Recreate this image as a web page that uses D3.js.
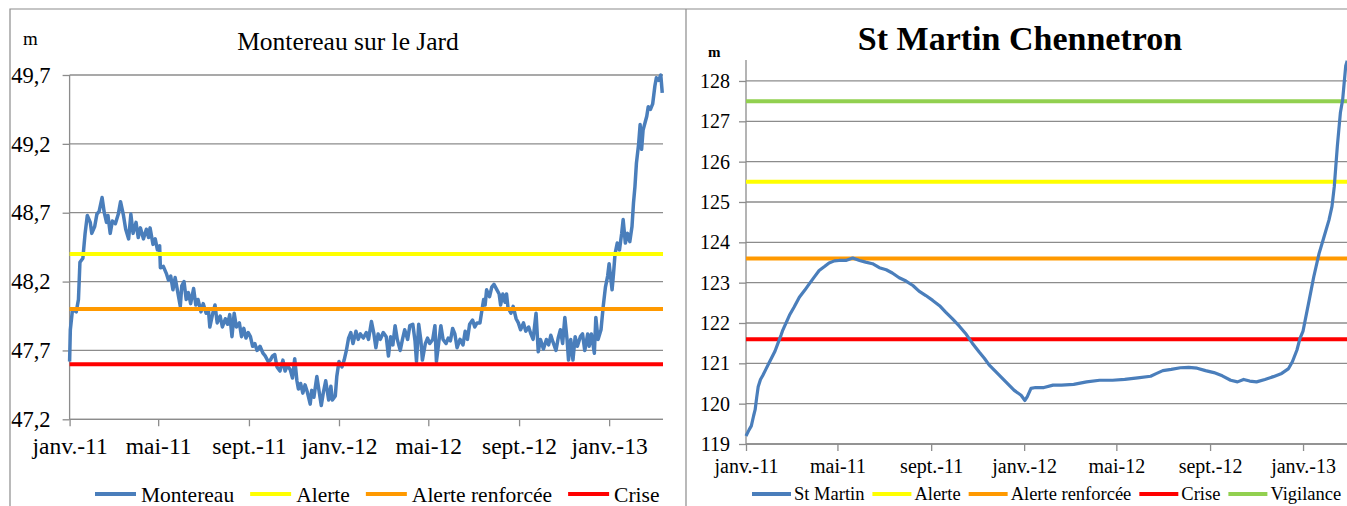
<!DOCTYPE html>
<html>
<head>
<meta charset="utf-8">
<script src="https://cdn.jsdelivr.net/npm/d3@7"></script>
<style>
  body { margin: 0; background: #fff; }
  svg { display: block; }
  svg text { font-family: 'Liberation Serif', 'Times New Roman', serif; }
</style>
</head>
<body>
<svg id="chart" width="1347" height="506"></svg>
<script>
// water level readings, days counted from 1 Jan 2011
var montDays = [0, 1, 4, 9, 12, 14, 18, 21, 24, 28, 30, 34, 37, 40, 44, 47, 50, 52, 55, 58, 62, 66, 69, 73, 76, 80, 83, 86, 90, 93, 96, 100, 104, 107, 109, 113, 116, 119, 122, 123, 127, 131, 134, 137, 140, 143, 146, 150, 152, 155, 158, 161, 164, 168, 171, 174, 178, 181, 185, 188, 190, 194, 197, 200, 204, 207, 211, 214, 217, 220, 223, 226, 230, 233, 236, 239, 242, 245, 248, 251, 254, 258, 262, 265, 269,
    272, 275, 278, 281, 285, 289, 292, 295, 299, 302, 305, 308, 310, 313, 316, 319, 322, 326, 328, 331, 335, 337, 341, 344, 347, 351, 354, 356, 360, 362, 365, 369, 372, 375, 378, 381, 384, 388, 391, 394, 398, 402, 405, 409, 412, 415, 418, 421, 425, 429, 432, 435, 438, 441, 444, 448, 451, 454, 458, 461, 465, 468, 470, 473, 476, 478, 482, 485, 488, 492, 495, 497, 500, 503, 506, 510, 513, 516, 519, 522, 525, 529, 533, 536, 539, 542,
    546, 549, 552, 556, 558, 561, 563, 565, 569, 572, 575, 579, 582, 584, 587, 590, 592, 594, 598, 601, 605, 608, 611, 615, 618, 622, 625, 628, 632, 635, 638, 642, 646, 649, 652, 655, 659, 662, 665, 668, 671, 674, 676, 679, 682, 685, 688, 692, 695, 698, 702, 704, 707, 711, 713, 716, 720, 723, 726, 729, 731, 735, 737, 739, 742, 745, 748, 750, 753, 756, 759, 762, 764, 766, 768, 771, 773, 775, 777, 780, 782, 784, 787, 790, 793, 795, 798, 801, 803];
var montLevels = [47.62, 47.85, 48.0, 47.98, 48.07, 48.34, 48.37, 48.55, 48.68, 48.63, 48.55, 48.6, 48.69, 48.71, 48.81, 48.7, 48.63, 48.68, 48.55, 48.64, 48.62, 48.69, 48.78, 48.68, 48.58, 48.51, 48.69, 48.55, 48.63, 48.52, 48.59, 48.51, 48.58, 48.52, 48.59, 48.47, 48.51, 48.43, 48.46, 48.3, 48.31, 48.26, 48.21, 48.24, 48.14, 48.23, 48.14, 48.02, 48.17, 48.2, 48.07, 48.12, 48.04, 48.15, 48.03, 48.07, 47.98, 48.04, 47.97, 48.0, 47.87, 47.97, 48.03, 47.9, 47.95, 47.87, 47.93, 47.89, 47.96, 47.8, 47.97, 47.87, 47.9, 47.8, 47.86, 47.79, 47.83, 47.8, 47.73, 47.75, 47.7, 47.73, 47.68, 47.66, 47.62,
    47.63, 47.66, 47.67, 47.58, 47.55, 47.63, 47.55, 47.59, 47.56, 47.5, 47.64, 47.48, 47.42, 47.46, 47.39, 47.45, 47.4, 47.31, 47.41, 47.36, 47.51, 47.44, 47.3, 47.4, 47.48, 47.34, 47.44, 47.34, 47.37, 47.51, 47.62, 47.58, 47.63, 47.7, 47.79, 47.83, 47.75, 47.84, 47.78, 47.82, 47.79, 47.83, 47.78, 47.91, 47.83, 47.72, 47.82, 47.78, 47.83, 47.8, 47.66, 47.8, 47.74, 47.88, 47.78, 47.7, 47.78, 47.85, 47.78, 47.88, 47.89, 47.77, 47.62, 47.89, 47.77, 47.63, 47.75, 47.79, 47.75, 47.78, 47.88, 47.62, 47.75, 47.88, 47.78, 47.75, 47.79, 47.77, 47.86, 47.82, 47.72, 47.78, 47.74, 47.84, 47.78, 47.89,
    47.92, 47.87, 47.9, 47.9, 47.97, 48.07, 48.03, 48.14, 48.09, 48.16, 48.18, 48.14, 48.11, 48.03, 48.11, 48.05, 48.11, 48.01, 47.97, 48.02, 47.93, 47.9, 47.85, 47.9, 47.84, 47.87, 47.82, 47.78, 47.97, 47.69, 47.78, 47.71, 47.78, 47.74, 47.81, 47.76, 47.7, 47.79, 47.85, 47.75, 47.94, 47.78, 47.63, 47.78, 47.63, 47.8, 47.73, 47.8, 47.82, 47.7, 47.82, 47.73, 47.82, 47.68, 47.94, 47.78, 47.85, 48.02, 48.16, 48.24, 48.33, 48.14, 48.26, 48.4, 48.48, 48.43, 48.55, 48.65, 48.48, 48.55, 48.49, 48.6, 48.77, 48.89, 49.06, 49.2, 49.34, 49.16, 49.3, 49.36, 49.4, 49.47, 49.45, 49.49, 49.62, 49.68, 49.66, 49.7, 49.57];

var martinDays = [0, 4, 7, 10, 12, 14, 16, 19, 22, 26, 30, 34, 38, 42, 46, 48, 52, 57, 63, 70, 77, 83, 90, 96, 103, 109, 116, 122, 131, 140, 149, 157, 166, 175, 184, 192, 201, 210, 219, 227, 236, 245, 254, 262, 271, 280, 289, 297, 306, 313, 319, 330, 341, 352, 361, 366, 369, 374, 380, 391, 403, 414, 430, 447, 464, 481, 497, 514, 531, 539, 547, 558, 570, 581, 592, 603, 614, 625, 636, 645, 653, 661, 670, 681, 692, 703, 712, 717, 723, 727, 731, 739, 745, 752, 758, 765, 769, 772, 774, 776, 778, 780, 783, 785, 787, 789];
var martinLevels = [119.2, 119.35, 119.45, 119.7, 119.85, 120.15, 120.42, 120.6, 120.7, 120.85, 121.0, 121.15, 121.3, 121.5, 121.7, 121.81, 121.98, 122.19, 122.39, 122.64, 122.81, 122.97, 123.15, 123.3, 123.4, 123.49, 123.54, 123.55, 123.55, 123.61, 123.55, 123.51, 123.47, 123.37, 123.32, 123.24, 123.12, 123.04, 122.93, 122.79, 122.68, 122.56, 122.43, 122.27, 122.1, 121.92, 121.72, 121.5, 121.28, 121.12, 120.96, 120.75, 120.54, 120.33, 120.21, 120.08, 120.17, 120.38, 120.4, 120.4, 120.46, 120.46, 120.48, 120.54, 120.58, 120.58, 120.6, 120.64, 120.68, 120.75, 120.82, 120.85, 120.89, 120.9, 120.88, 120.82, 120.77, 120.69, 120.58, 120.54, 120.6, 120.56, 120.54, 120.6, 120.67, 120.75, 120.87, 121.04, 121.33, 121.62, 121.8, 122.56, 123.14, 123.72, 124.1, 124.55, 124.89, 125.38, 125.88, 126.38, 126.8, 127.21, 127.54, 127.96, 128.37, 128.5];

var tickMonths = ["2011-01", "2011-05", "2011-09", "2012-01", "2012-05", "2012-09", "2013-01"];
var tickLabels = ["janv.-11", "mai-11", "sept.-11", "janv.-12", "mai-12", "sept.-12", "janv.-13"];

var montTicks = [47.2, 47.7, 48.2, 48.7, 49.2, 49.7];
var martinTicks = [119, 120, 121, 122, 123, 124, 125, 126, 127, 128];

var montThresholdNames = ["Alerte", "Alerte renforcée", "Crise"];
var montThresholdValues = [48.4, 48.0, 47.6];
var martinThresholdNames = ["Alerte", "Alerte renforcée", "Crise", "Vigilance"];
var martinThresholdValues = [125.5, 123.6, 121.6, 127.5];

var COLORS = {
    "series": "#4a7ebb",
    "Alerte": "#ffff00",
    "Alerte renforcée": "#ff9900",
    "Crise": "#ff0000",
    "Vigilance": "#92d050"
};
var GRID = "#8c8c8c";
var SERIF = "'Liberation Serif', 'Times New Roman', serif";

var start = new Date(2011, 0, 1);
var parseMonth = d3.timeParse("%Y-%m");
var frFormat = d3.formatLocale({decimal: ",", thousands: " ", grouping: [3], currency: ["", " €"]});

function dayToDate(d) {
    return d3.timeDay.offset(start, d);
}

function styleAxis(axisG, size) {
    axisG.attr("font-family", null).attr("font-size", null);
    axisG.selectAll(".tick line").attr("stroke", GRID).attr("stroke-width", 1.3);
    axisG.selectAll("text")
        .attr("fill", "#000")
        .attr("font-family", SERIF)
        .attr("font-size", size);
}

function drawPanel(svg, o) {
    var g = svg.append("g");

    var x = d3.scaleTime()
        .domain([start, dayToDate(o.endDay)])
        .range([o.left, o.right]);
    var y = d3.scaleLinear()
        .domain(o.yDomain)
        .range([o.bottom, o.top]);

    // horizontal gridlines
    g.append("g")
        .selectAll("line")
        .data(o.yTicks)
        .join("line")
        .attr("x1", o.left)
        .attr("x2", o.right)
        .attr("y1", function (d) { return y(d); })
        .attr("y2", function (d) { return y(d); })
        .attr("stroke", GRID)
        .attr("stroke-width", 1.3);

    // y axis
    var yAxis = g.append("g")
        .attr("transform", "translate(" + o.left + ",0)")
        .call(d3.axisLeft(y).tickValues(o.yTicks).tickSize(7).tickPadding(o.yPad)
            .tickFormat(o.yFormat));
    yAxis.select(".domain").attr("stroke", GRID).attr("stroke-width", 1.3)
        .attr("d", "M0," + o.top + "V" + o.bottom);
    styleAxis(yAxis, o.yFont);

    // x axis
    var xAxis = g.append("g")
        .attr("transform", "translate(0," + o.bottom + ")")
        .call(d3.axisBottom(x)
            .tickValues(tickMonths.map(parseMonth))
            .tickSize(7)
            .tickPadding(o.xPad)
            .tickFormat(function (d, i) { return tickLabels[i]; }));
    xAxis.select(".domain").attr("stroke", GRID).attr("stroke-width", 1.3)
        .attr("d", "M" + o.left + ",0H" + o.right);
    styleAxis(xAxis, o.xFont);

    var line = d3.line()
        .x(function (d) { return x(dayToDate(d[0])); })
        .y(function (d) { return y(d[1]); });

    var pts = o.days.map(function (d, i) { return [d, o.levels[i]]; });

    function drawSeries() {
        g.append("path")
            .datum(pts)
            .attr("fill", "none")
            .attr("stroke", COLORS.series)
            .attr("stroke-width", o.seriesWidth)
            .attr("stroke-linejoin", "round")
            .attr("d", line);
    }

    function drawThresholds() {
        g.append("g")
            .selectAll("line")
            .data(o.thrNames)
            .join("line")
            .attr("x1", o.left)
            .attr("x2", o.right)
            .attr("y1", function (d, i) { return y(o.thrValues[i]); })
            .attr("y2", function (d, i) { return y(o.thrValues[i]); })
            .attr("stroke", function (d) { return COLORS[d]; })
            .attr("stroke-width", 4);
    }

    if (o.seriesOnTop) {
        drawThresholds();
        drawSeries();
    } else {
        drawSeries();
        drawThresholds();
    }

    // title and unit
    svg.append("text")
        .attr("x", o.titleX)
        .attr("y", o.titleY)
        .attr("text-anchor", "middle")
        .attr("font-family", SERIF)
        .attr("font-size", o.titleSize)
        .attr("font-weight", o.titleWeight)
        .attr("fill", "#000")
        .text(o.title);

    svg.append("text")
        .attr("x", o.unitX)
        .attr("y", o.unitY)
        .attr("font-family", SERIF)
        .attr("font-size", o.unitSize)
        .attr("font-weight", o.titleWeight)
        .attr("fill", "#000")
        .text("m");

    // legend, laid out left to right
    var entries = [o.seriesName].concat(o.thrNames);
    var lg = svg.append("g")
        .attr("font-family", SERIF)
        .attr("font-size", o.legendFont);
    var cx = o.legendX;
    entries.forEach(function (name, i) {
        lg.append("line")
            .attr("x1", cx)
            .attr("x2", cx + o.legendLine)
            .attr("y1", o.legendY)
            .attr("y2", o.legendY)
            .attr("stroke", i === 0 ? COLORS.series : COLORS[name])
            .attr("stroke-width", 4);
        var t = lg.append("text")
            .attr("x", cx + o.legendLine + o.legendTextGap)
            .attr("y", o.legendY)
            .attr("dy", "0.35em")
            .attr("fill", "#000")
            .text(name);
        cx += o.legendLine + o.legendTextGap + t.node().getComputedTextLength() + o.legendGap;
    });
}

var svg = d3.select("#chart");

// panel frames
svg.append("path")
    .attr("d", "M10,506V9H1347M686,9V506")
    .attr("fill", "none")
    .attr("stroke", "#8c8c8c")
    .attr("stroke-width", 1.2);

drawPanel(svg, {
    left: 69.6, right: 663, top: 75, bottom: 419.3,
    endDay: 804,
    yDomain: [47.2, 49.7],
    yTicks: montTicks,
    yFormat: function (d) { return frFormat.format(".1f")(d); },
    yPad: 12, yFont: 22.5,
    xPad: 11, xFont: 23.5,
    days: montDays, levels: montLevels,
    seriesName: "Montereau", seriesWidth: 3.5, seriesOnTop: false,
    thrNames: montThresholdNames, thrValues: montThresholdValues,
    title: "Montereau sur le Jard", titleX: 348, titleY: 50, titleSize: 25.5, titleWeight: "normal",
    unitX: 23, unitY: 45, unitSize: 19,
    legendX: 95, legendY: 494, legendFont: 21.5, legendLine: 41, legendTextGap: 5, legendGap: 16
});

drawPanel(svg, {
    left: 746, right: 1348, top: 60, bottom: 444,
    endDay: 790,
    yDomain: [119, 128.52],
    yTicks: martinTicks,
    yFormat: d3.format("d"),
    yPad: 9, yFont: 20,
    xPad: 8, xFont: 20,
    days: martinDays, levels: martinLevels,
    seriesName: "St Martin", seriesWidth: 3.2, seriesOnTop: true,
    thrNames: martinThresholdNames, thrValues: martinThresholdValues,
    title: "St Martin Chennetron", titleX: 1020, titleY: 50, titleSize: 34, titleWeight: "bold",
    unitX: 708, unitY: 57, unitSize: 15,
    legendX: 752, legendY: 494, legendFont: 18.5, legendLine: 39, legendTextGap: 3, legendGap: 8
});
</script>
</body>
</html>
